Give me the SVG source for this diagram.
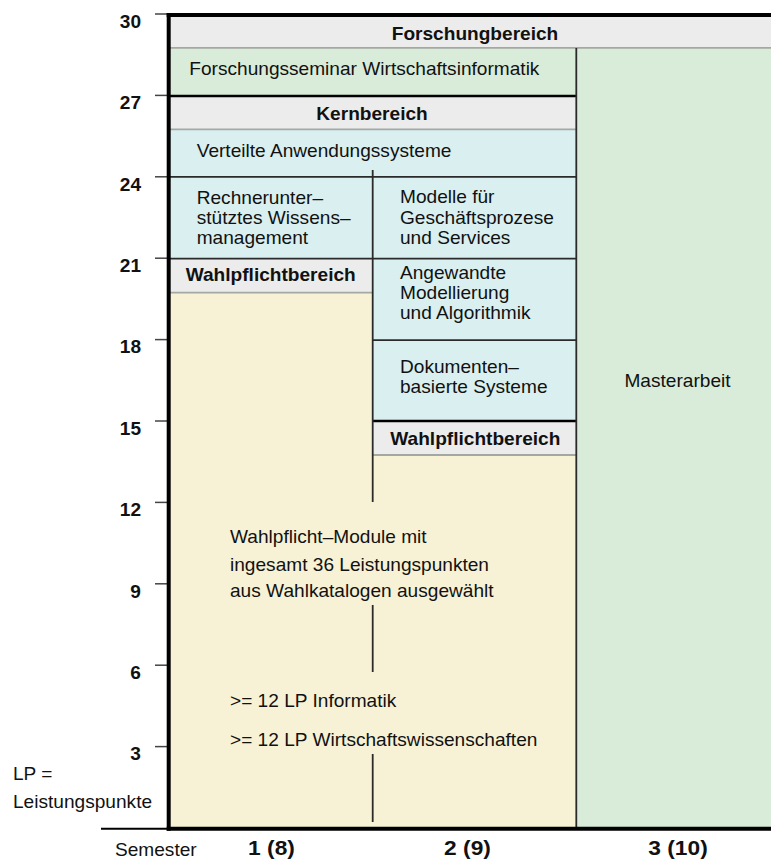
<svg xmlns="http://www.w3.org/2000/svg" width="771" height="861" viewBox="0 0 771 861">
<defs>
<style>
text{font-family:"Liberation Sans",Arial,sans-serif;fill:#111;font-size:17.6px}
.b{font-weight:bold}
.m{text-anchor:middle}
.e{text-anchor:end}
.big{font-size:20.5px;font-weight:bold}
.gray{fill:#ebeceb}
.green{fill:#d9ecd9}
.blue{fill:#d9eff0}
.yellow{fill:#f7f2d5}
.gl{stroke:#a3a8a3;stroke-width:1.8;fill:none}
.dl{stroke:#2a2a2a;stroke-width:1.8;fill:none}
.bl{stroke:#000;stroke-width:2.5;fill:none}
.tick{stroke:#444;stroke-width:1.5}
.frame{stroke:#000;stroke-width:4;fill:none}
</style>
</defs>
<rect width="771" height="861" fill="#fff"/>

<g id="axis">
<g class="tick">
<line x1="155" y1="14" x2="168" y2="14"/>
<line x1="155" y1="95.4" x2="168" y2="95.4"/>
<line x1="155" y1="176.8" x2="168" y2="176.8"/>
<line x1="155" y1="258.2" x2="168" y2="258.2"/>
<line x1="155" y1="339.6" x2="168" y2="339.6"/>
<line x1="155" y1="421" x2="168" y2="421"/>
<line x1="155" y1="502.4" x2="168" y2="502.4"/>
<line x1="155" y1="583.8" x2="168" y2="583.8"/>
<line x1="155" y1="665.2" x2="168" y2="665.2"/>
<line x1="155" y1="746.6" x2="168" y2="746.6"/>
</g>
<text class="b e" transform="translate(141 27.8) scale(1.085 1)">30</text>
<text class="b e" transform="translate(141 109.2) scale(1.085 1)">27</text>
<text class="b e" transform="translate(141 190.6) scale(1.085 1)">24</text>
<text class="b e" transform="translate(141 272) scale(1.085 1)">21</text>
<text class="b e" transform="translate(141 353.4) scale(1.085 1)">18</text>
<text class="b e" transform="translate(141 434.8) scale(1.085 1)">15</text>
<text class="b e" transform="translate(141 516.2) scale(1.085 1)">12</text>
<text class="b e" transform="translate(141 597.6) scale(1.085 1)">9</text>
<text class="b e" transform="translate(141 679) scale(1.085 1)">6</text>
<text class="b e" transform="translate(141 760.4) scale(1.085 1)">3</text>
<text transform="translate(13 780) scale(1.085 1)">LP =</text>
<text transform="translate(13 808) scale(1.085 1)">Leistungspunkte</text>
<text transform="translate(115 855.7) scale(1.085 1)">Semester</text>
<text class="big m" transform="translate(271.5 855) scale(1.11 1)">1 (8)</text>
<text class="big m" transform="translate(467.5 855) scale(1.11 1)">2 (9)</text>
<text class="big m" transform="translate(678 855) scale(1.11 1)">3 (10)</text>
</g>

<g id="forschungbereich">
<rect class="gray" x="170" y="16" width="601" height="32"/>
<text class="b m" transform="translate(475 40) scale(1.085 1)">Forschungbereich</text>
</g>
<g id="forschungsseminar">
<rect class="green" x="170" y="48" width="406" height="48"/>
<text transform="translate(189.3 75) scale(1.085 1)">Forschungsseminar Wirtschaftsinformatik</text>
</g>
<g id="masterarbeit">
<rect class="green" x="576" y="48" width="195" height="780"/>
<text class="m" transform="translate(677.5 387.3) scale(1.085 1)">Masterarbeit</text>
</g>
<g id="kernbereich">
<rect class="gray" x="170" y="96" width="406" height="33"/>
<text class="b m" transform="translate(372 120) scale(1.085 1)">Kernbereich</text>
</g>
<g id="verteilte">
<rect class="blue" x="170" y="129" width="406" height="48"/>
<text transform="translate(196.7 156.7) scale(1.085 1)">Verteilte Anwendungssysteme</text>
</g>
<g id="rechnerunterstuetzt">
<rect class="blue" x="170" y="177" width="203" height="82"/>
<text transform="translate(196.7 204.3) scale(1.085 1)"><tspan x="0" y="0">Rechnerunter–</tspan><tspan x="0" y="20">stütztes Wissens–</tspan><tspan x="0" y="40">management</tspan></text>
</g>
<g id="wahlpflicht1">
<rect class="gray" x="170" y="259" width="203" height="33"/>
<text class="b m" transform="translate(270.7 281) scale(1.085 1)">Wahlpflichtbereich</text>
</g>
<g id="wahlpflicht-modules">
<rect class="yellow" x="170" y="292" width="203" height="536"/>
<rect class="yellow" x="373" y="455" width="203" height="373"/>
<text transform="translate(230 543.3) scale(1.085 1)"><tspan x="0" y="0">Wahlpflicht–Module mit</tspan><tspan x="0" y="27.3">ingesamt 36 Leistungspunkten</tspan><tspan x="0" y="54">aus Wahlkatalogen ausgewählt</tspan></text>
<text transform="translate(230 706.7) scale(1.085 1)">&gt;= 12 LP Informatik</text>
<text transform="translate(230 746) scale(1.085 1)">&gt;= 12 LP Wirtschaftswissenschaften</text>
</g>
<g id="modelle">
<rect class="blue" x="373" y="177" width="203" height="81"/>
<text transform="translate(400 203.3) scale(1.085 1)"><tspan x="0" y="0">Modelle für</tspan><tspan x="0" y="20.5">Geschäftsprozese</tspan><tspan x="0" y="40.7">und Services</tspan></text>
</g>
<g id="angewandte">
<rect class="blue" x="373" y="258" width="203" height="82"/>
<text transform="translate(400 279) scale(1.085 1)"><tspan x="0" y="0">Angewandte</tspan><tspan x="0" y="20">Modellierung</tspan><tspan x="0" y="40.3">und Algorithmik</tspan></text>
</g>
<g id="dokumenten">
<rect class="blue" x="373" y="340" width="203" height="81"/>
<text transform="translate(400 373.3) scale(1.085 1)"><tspan x="0" y="0">Dokumenten–</tspan><tspan x="0" y="20">basierte Systeme</tspan></text>
</g>
<g id="wahlpflicht2">
<rect class="gray" x="373" y="421" width="203" height="34"/>
<text class="b m" transform="translate(475.3 445) scale(1.085 1)">Wahlpflichtbereich</text>
</g>

<g id="connectors">
<line class="gl" x1="170" y1="47.8" x2="771" y2="47.8"/>
<line class="gl" x1="170" y1="129.3" x2="576" y2="129.3"/>
<line class="gl" x1="170" y1="292.6" x2="373" y2="292.6"/>
<line class="gl" x1="373" y1="455" x2="576" y2="455"/>
<line class="bl" x1="170" y1="96" x2="576" y2="96"/>
<line class="dl" x1="170" y1="176.8" x2="576" y2="176.8"/>
<line class="dl" x1="170" y1="258.6" x2="576" y2="258.6"/>
<line class="dl" x1="373" y1="340.2" x2="576" y2="340.2"/>
<line class="bl" x1="373" y1="421" x2="576" y2="421"/>
<line class="dl" x1="576.3" y1="48" x2="576.3" y2="828"/>
<line class="dl" x1="372.7" y1="170" x2="372.7" y2="502"/>
<line class="dl" x1="372.7" y1="605" x2="372.7" y2="672"/>
<line class="dl" x1="372.7" y1="754" x2="372.7" y2="822"/>
<line class="frame" x1="166.7" y1="15" x2="771" y2="15"/>
<line class="frame" x1="168.7" y1="13" x2="168.7" y2="830.7"/>
<line class="frame" x1="166.7" y1="828.7" x2="771" y2="828.7"/>
<line stroke="#000" stroke-width="2" x1="101" y1="828.8" x2="168" y2="828.8"/>
</g>
</svg>
